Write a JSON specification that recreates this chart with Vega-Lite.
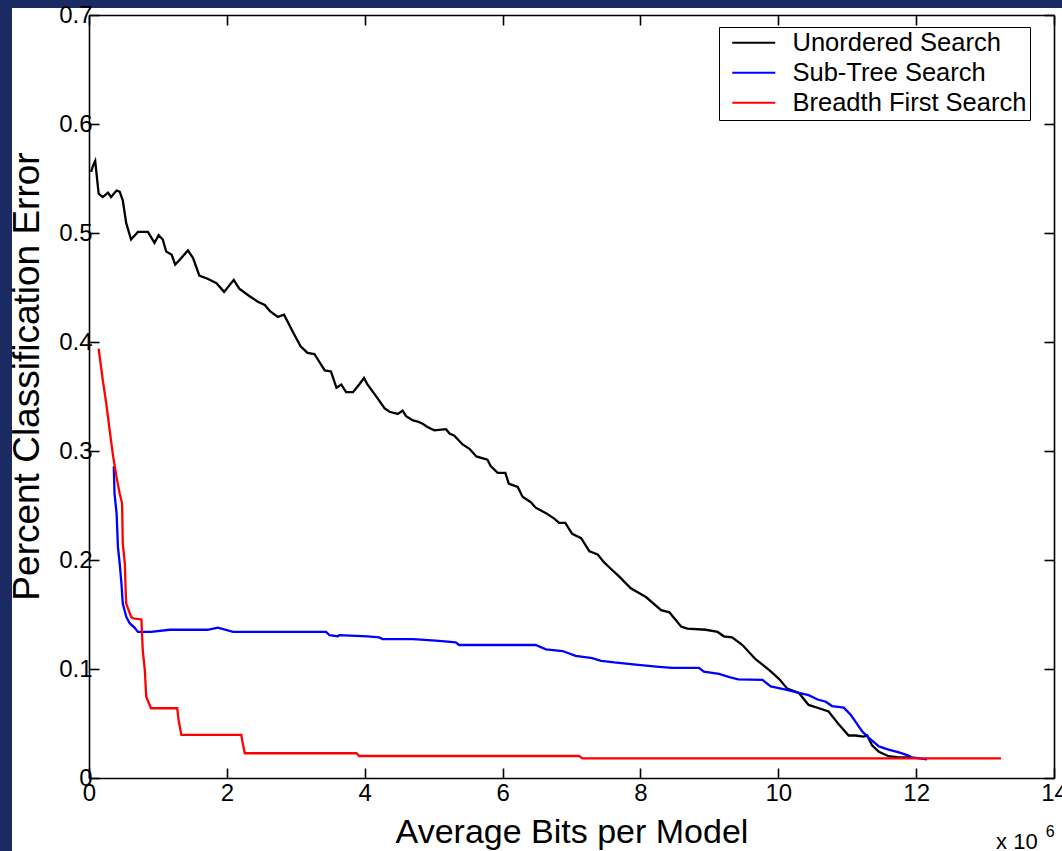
{
  "$schema": "https://vega.github.io/schema/vega-lite/v6.json",
  "width": 965,
  "height": 763,
  "autosize": {"type": "none"},
  "padding": {"left": 89, "top": 15, "right": 8, "bottom": 73},
  "background": "#1a2a62",
  "config": {
    "font": "Liberation Sans",
    "view": {"stroke": null},
    "axis": {
      "domainColor": "black", "domainWidth": 1.6,
      "tickColor": "black", "tickWidth": 1.6, "tickSize": -10,
      "labelColor": "black", "labelFontSize": 24, "labelFont": "Liberation Sans",
      "titleColor": "black", "titleFont": "Liberation Sans", "titleFontWeight": "normal",
      "grid": false, "labelFlush": false, "labelOverlap": false, "zindex": 1
    }
  },
  "datasets": {
    "curves": [
      {"s": "Unordered Search", "x": 0.03, "y": 0.556},
      {"s": "Unordered Search", "x": 0.06, "y": 0.562},
      {"s": "Unordered Search", "x": 0.09, "y": 0.566},
      {"s": "Unordered Search", "x": 0.14, "y": 0.536},
      {"s": "Unordered Search", "x": 0.20, "y": 0.533},
      {"s": "Unordered Search", "x": 0.275, "y": 0.537},
      {"s": "Unordered Search", "x": 0.32, "y": 0.533},
      {"s": "Unordered Search", "x": 0.40, "y": 0.539},
      {"s": "Unordered Search", "x": 0.445, "y": 0.538},
      {"s": "Unordered Search", "x": 0.49, "y": 0.530},
      {"s": "Unordered Search", "x": 0.54, "y": 0.509},
      {"s": "Unordered Search", "x": 0.61, "y": 0.494},
      {"s": "Unordered Search", "x": 0.71, "y": 0.501},
      {"s": "Unordered Search", "x": 0.855, "y": 0.501},
      {"s": "Unordered Search", "x": 0.95, "y": 0.491},
      {"s": "Unordered Search", "x": 1.01, "y": 0.498},
      {"s": "Unordered Search", "x": 1.07, "y": 0.494},
      {"s": "Unordered Search", "x": 1.12, "y": 0.483},
      {"s": "Unordered Search", "x": 1.20, "y": 0.480},
      {"s": "Unordered Search", "x": 1.25, "y": 0.471},
      {"s": "Unordered Search", "x": 1.31, "y": 0.475},
      {"s": "Unordered Search", "x": 1.435, "y": 0.484},
      {"s": "Unordered Search", "x": 1.51, "y": 0.477},
      {"s": "Unordered Search", "x": 1.60, "y": 0.461},
      {"s": "Unordered Search", "x": 1.72, "y": 0.458},
      {"s": "Unordered Search", "x": 1.85, "y": 0.454},
      {"s": "Unordered Search", "x": 1.96, "y": 0.446},
      {"s": "Unordered Search", "x": 2.10, "y": 0.457},
      {"s": "Unordered Search", "x": 2.18, "y": 0.449},
      {"s": "Unordered Search", "x": 2.33, "y": 0.442},
      {"s": "Unordered Search", "x": 2.45, "y": 0.437},
      {"s": "Unordered Search", "x": 2.55, "y": 0.434},
      {"s": "Unordered Search", "x": 2.63, "y": 0.428},
      {"s": "Unordered Search", "x": 2.74, "y": 0.423},
      {"s": "Unordered Search", "x": 2.83, "y": 0.425},
      {"s": "Unordered Search", "x": 2.96, "y": 0.409},
      {"s": "Unordered Search", "x": 3.07, "y": 0.396},
      {"s": "Unordered Search", "x": 3.17, "y": 0.390},
      {"s": "Unordered Search", "x": 3.27, "y": 0.389},
      {"s": "Unordered Search", "x": 3.42, "y": 0.374},
      {"s": "Unordered Search", "x": 3.51, "y": 0.373},
      {"s": "Unordered Search", "x": 3.59, "y": 0.358},
      {"s": "Unordered Search", "x": 3.66, "y": 0.361},
      {"s": "Unordered Search", "x": 3.73, "y": 0.354},
      {"s": "Unordered Search", "x": 3.83, "y": 0.354},
      {"s": "Unordered Search", "x": 3.92, "y": 0.361},
      {"s": "Unordered Search", "x": 3.99, "y": 0.367},
      {"s": "Unordered Search", "x": 4.04, "y": 0.361},
      {"s": "Unordered Search", "x": 4.19, "y": 0.348},
      {"s": "Unordered Search", "x": 4.29, "y": 0.339},
      {"s": "Unordered Search", "x": 4.36, "y": 0.336},
      {"s": "Unordered Search", "x": 4.48, "y": 0.334},
      {"s": "Unordered Search", "x": 4.55, "y": 0.337},
      {"s": "Unordered Search", "x": 4.60, "y": 0.332},
      {"s": "Unordered Search", "x": 4.70, "y": 0.328},
      {"s": "Unordered Search", "x": 4.77, "y": 0.327},
      {"s": "Unordered Search", "x": 4.84, "y": 0.325},
      {"s": "Unordered Search", "x": 4.91, "y": 0.322},
      {"s": "Unordered Search", "x": 5.01, "y": 0.319},
      {"s": "Unordered Search", "x": 5.18, "y": 0.320},
      {"s": "Unordered Search", "x": 5.23, "y": 0.316},
      {"s": "Unordered Search", "x": 5.30, "y": 0.314},
      {"s": "Unordered Search", "x": 5.42, "y": 0.306},
      {"s": "Unordered Search", "x": 5.52, "y": 0.302},
      {"s": "Unordered Search", "x": 5.62, "y": 0.295},
      {"s": "Unordered Search", "x": 5.78, "y": 0.292},
      {"s": "Unordered Search", "x": 5.83, "y": 0.286},
      {"s": "Unordered Search", "x": 5.93, "y": 0.280},
      {"s": "Unordered Search", "x": 6.04, "y": 0.280},
      {"s": "Unordered Search", "x": 6.09, "y": 0.270},
      {"s": "Unordered Search", "x": 6.22, "y": 0.267},
      {"s": "Unordered Search", "x": 6.29, "y": 0.258},
      {"s": "Unordered Search", "x": 6.41, "y": 0.253},
      {"s": "Unordered Search", "x": 6.48, "y": 0.248},
      {"s": "Unordered Search", "x": 6.63, "y": 0.243},
      {"s": "Unordered Search", "x": 6.75, "y": 0.238},
      {"s": "Unordered Search", "x": 6.82, "y": 0.234},
      {"s": "Unordered Search", "x": 6.91, "y": 0.234},
      {"s": "Unordered Search", "x": 7.01, "y": 0.224},
      {"s": "Unordered Search", "x": 7.14, "y": 0.220},
      {"s": "Unordered Search", "x": 7.26, "y": 0.208},
      {"s": "Unordered Search", "x": 7.38, "y": 0.205},
      {"s": "Unordered Search", "x": 7.47, "y": 0.198},
      {"s": "Unordered Search", "x": 7.57, "y": 0.192},
      {"s": "Unordered Search", "x": 7.69, "y": 0.185},
      {"s": "Unordered Search", "x": 7.86, "y": 0.174},
      {"s": "Unordered Search", "x": 8.08, "y": 0.166},
      {"s": "Unordered Search", "x": 8.30, "y": 0.154},
      {"s": "Unordered Search", "x": 8.42, "y": 0.152},
      {"s": "Unordered Search", "x": 8.59, "y": 0.139},
      {"s": "Unordered Search", "x": 8.68, "y": 0.137},
      {"s": "Unordered Search", "x": 8.95, "y": 0.136},
      {"s": "Unordered Search", "x": 9.12, "y": 0.134},
      {"s": "Unordered Search", "x": 9.21, "y": 0.130},
      {"s": "Unordered Search", "x": 9.33, "y": 0.129},
      {"s": "Unordered Search", "x": 9.48, "y": 0.122},
      {"s": "Unordered Search", "x": 9.67, "y": 0.109},
      {"s": "Unordered Search", "x": 9.87, "y": 0.099},
      {"s": "Unordered Search", "x": 10.01, "y": 0.091},
      {"s": "Unordered Search", "x": 10.13, "y": 0.082},
      {"s": "Unordered Search", "x": 10.30, "y": 0.078},
      {"s": "Unordered Search", "x": 10.44, "y": 0.067},
      {"s": "Unordered Search", "x": 10.59, "y": 0.064},
      {"s": "Unordered Search", "x": 10.73, "y": 0.061},
      {"s": "Unordered Search", "x": 10.88, "y": 0.049},
      {"s": "Unordered Search", "x": 11.02, "y": 0.039},
      {"s": "Unordered Search", "x": 11.12, "y": 0.039},
      {"s": "Unordered Search", "x": 11.24, "y": 0.038},
      {"s": "Unordered Search", "x": 11.29, "y": 0.039},
      {"s": "Unordered Search", "x": 11.36, "y": 0.030},
      {"s": "Unordered Search", "x": 11.46, "y": 0.024},
      {"s": "Unordered Search", "x": 11.60, "y": 0.020},
      {"s": "Unordered Search", "x": 11.75, "y": 0.019},
      {"s": "Unordered Search", "x": 11.92, "y": 0.019},
      {"s": "Sub-Tree Search", "x": 0.36, "y": 0.286},
      {"s": "Sub-Tree Search", "x": 0.37, "y": 0.261},
      {"s": "Sub-Tree Search", "x": 0.40, "y": 0.243},
      {"s": "Sub-Tree Search", "x": 0.42, "y": 0.212},
      {"s": "Sub-Tree Search", "x": 0.445, "y": 0.197},
      {"s": "Sub-Tree Search", "x": 0.47, "y": 0.179},
      {"s": "Sub-Tree Search", "x": 0.49, "y": 0.160},
      {"s": "Sub-Tree Search", "x": 0.54, "y": 0.148},
      {"s": "Sub-Tree Search", "x": 0.59, "y": 0.142},
      {"s": "Sub-Tree Search", "x": 0.66, "y": 0.138},
      {"s": "Sub-Tree Search", "x": 0.71, "y": 0.134},
      {"s": "Sub-Tree Search", "x": 0.90, "y": 0.134},
      {"s": "Sub-Tree Search", "x": 1.17, "y": 0.136},
      {"s": "Sub-Tree Search", "x": 1.72, "y": 0.136},
      {"s": "Sub-Tree Search", "x": 1.87, "y": 0.138},
      {"s": "Sub-Tree Search", "x": 2.09, "y": 0.134},
      {"s": "Sub-Tree Search", "x": 2.76, "y": 0.134},
      {"s": "Sub-Tree Search", "x": 3.44, "y": 0.134},
      {"s": "Sub-Tree Search", "x": 3.49, "y": 0.131},
      {"s": "Sub-Tree Search", "x": 3.61, "y": 0.130},
      {"s": "Sub-Tree Search", "x": 3.63, "y": 0.131},
      {"s": "Sub-Tree Search", "x": 4.04, "y": 0.130},
      {"s": "Sub-Tree Search", "x": 4.21, "y": 0.129},
      {"s": "Sub-Tree Search", "x": 4.26, "y": 0.1275},
      {"s": "Sub-Tree Search", "x": 4.70, "y": 0.1275},
      {"s": "Sub-Tree Search", "x": 5.03, "y": 0.126},
      {"s": "Sub-Tree Search", "x": 5.32, "y": 0.1245},
      {"s": "Sub-Tree Search", "x": 5.37, "y": 0.122},
      {"s": "Sub-Tree Search", "x": 6.48, "y": 0.122},
      {"s": "Sub-Tree Search", "x": 6.63, "y": 0.118},
      {"s": "Sub-Tree Search", "x": 6.87, "y": 0.1165},
      {"s": "Sub-Tree Search", "x": 7.06, "y": 0.112},
      {"s": "Sub-Tree Search", "x": 7.30, "y": 0.110},
      {"s": "Sub-Tree Search", "x": 7.43, "y": 0.1075},
      {"s": "Sub-Tree Search", "x": 7.62, "y": 0.106},
      {"s": "Sub-Tree Search", "x": 7.93, "y": 0.104},
      {"s": "Sub-Tree Search", "x": 8.27, "y": 0.102},
      {"s": "Sub-Tree Search", "x": 8.46, "y": 0.101},
      {"s": "Sub-Tree Search", "x": 8.85, "y": 0.101},
      {"s": "Sub-Tree Search", "x": 8.92, "y": 0.0975},
      {"s": "Sub-Tree Search", "x": 9.14, "y": 0.0955},
      {"s": "Sub-Tree Search", "x": 9.29, "y": 0.0925},
      {"s": "Sub-Tree Search", "x": 9.42, "y": 0.0905},
      {"s": "Sub-Tree Search", "x": 9.77, "y": 0.090},
      {"s": "Sub-Tree Search", "x": 9.89, "y": 0.084},
      {"s": "Sub-Tree Search", "x": 10.11, "y": 0.081},
      {"s": "Sub-Tree Search", "x": 10.30, "y": 0.078},
      {"s": "Sub-Tree Search", "x": 10.44, "y": 0.076},
      {"s": "Sub-Tree Search", "x": 10.57, "y": 0.072},
      {"s": "Sub-Tree Search", "x": 10.69, "y": 0.070},
      {"s": "Sub-Tree Search", "x": 10.78, "y": 0.066},
      {"s": "Sub-Tree Search", "x": 10.95, "y": 0.0645},
      {"s": "Sub-Tree Search", "x": 11.05, "y": 0.058},
      {"s": "Sub-Tree Search", "x": 11.15, "y": 0.049},
      {"s": "Sub-Tree Search", "x": 11.22, "y": 0.0425},
      {"s": "Sub-Tree Search", "x": 11.31, "y": 0.037},
      {"s": "Sub-Tree Search", "x": 11.46, "y": 0.029},
      {"s": "Sub-Tree Search", "x": 11.60, "y": 0.026},
      {"s": "Sub-Tree Search", "x": 11.75, "y": 0.0235},
      {"s": "Sub-Tree Search", "x": 11.87, "y": 0.021},
      {"s": "Sub-Tree Search", "x": 11.94, "y": 0.019},
      {"s": "Sub-Tree Search", "x": 12.16, "y": 0.017},
      {"s": "Breadth First Search", "x": 0.14, "y": 0.394},
      {"s": "Breadth First Search", "x": 0.20, "y": 0.365},
      {"s": "Breadth First Search", "x": 0.25, "y": 0.344},
      {"s": "Breadth First Search", "x": 0.30, "y": 0.319},
      {"s": "Breadth First Search", "x": 0.35, "y": 0.295},
      {"s": "Breadth First Search", "x": 0.40, "y": 0.276},
      {"s": "Breadth First Search", "x": 0.445, "y": 0.261},
      {"s": "Breadth First Search", "x": 0.48, "y": 0.252},
      {"s": "Breadth First Search", "x": 0.49, "y": 0.215},
      {"s": "Breadth First Search", "x": 0.52, "y": 0.197},
      {"s": "Breadth First Search", "x": 0.53, "y": 0.1755},
      {"s": "Breadth First Search", "x": 0.54, "y": 0.160},
      {"s": "Breadth First Search", "x": 0.61, "y": 0.148},
      {"s": "Breadth First Search", "x": 0.64, "y": 0.1465},
      {"s": "Breadth First Search", "x": 0.76, "y": 0.1455},
      {"s": "Breadth First Search", "x": 0.78, "y": 0.117},
      {"s": "Breadth First Search", "x": 0.81, "y": 0.099},
      {"s": "Breadth First Search", "x": 0.83, "y": 0.0746},
      {"s": "Breadth First Search", "x": 0.90, "y": 0.064},
      {"s": "Breadth First Search", "x": 1.28, "y": 0.064},
      {"s": "Breadth First Search", "x": 1.30, "y": 0.053},
      {"s": "Breadth First Search", "x": 1.34, "y": 0.0395},
      {"s": "Breadth First Search", "x": 2.21, "y": 0.0395},
      {"s": "Breadth First Search", "x": 2.23, "y": 0.032},
      {"s": "Breadth First Search", "x": 2.26, "y": 0.0227},
      {"s": "Breadth First Search", "x": 3.88, "y": 0.0227},
      {"s": "Breadth First Search", "x": 3.92, "y": 0.0202},
      {"s": "Breadth First Search", "x": 7.11, "y": 0.0202},
      {"s": "Breadth First Search", "x": 7.16, "y": 0.018},
      {"s": "Breadth First Search", "x": 13.23, "y": 0.018}
    ]
  },
  "layer": [
    {
      "data": {"values": [{}]},
      "mark": {"type": "rect", "fill": "white", "clip": false},
      "encoding": {
        "x": {"datum": -1.117, "type": "quantitative", "scale": {"domain": [0, 14], "nice": false, "zero": false}, "axis": null},
        "x2": {"datum": 15},
        "y": {"datum": -0.2, "type": "quantitative", "scale": {"domain": [0, 0.7], "nice": false, "zero": false}, "axis": null},
        "y2": {"datum": 0.7064}
      }
    },
    {
      "data": {"name": "curves"},
      "mark": {"type": "line", "strokeWidth": 2.3, "clip": false},
      "encoding": {
        "x": {"field": "x", "type": "quantitative",
          "axis": {"orient": "bottom", "zindex": 1, "values": [0, 2, 4, 6, 8, 10, 12, 14], "labelPadding": 13, "title": "Average Bits per Model", "titleFontSize": 34, "titleBaseline": "alphabetic", "titleY": 64}},
        "y": {"field": "y", "type": "quantitative",
          "axis": {"orient": "left", "zindex": 1, "values": [0, 0.1, 0.2, 0.3, 0.4, 0.5, 0.6, 0.7], "format": ".1~f", "labelPadding": 7, "title": "Percent Classification Error", "titleFontSize": 37, "titleBaseline": "alphabetic", "titleAngle": 270, "titleX": -51, "titleY": 361, "titleAlign": "center"}},
        "color": {"field": "s", "type": "nominal",
          "scale": {"domain": ["Unordered Search", "Sub-Tree Search", "Breadth First Search"], "range": ["#000000", "#0000ff", "#ff0000"]},
          "legend": {"title": null, "orient": "none", "legendX": 630, "legendY": 12, "strokeColor": "black", "fillColor": "white", "padding": 3, "symbolType": "M-2.15,0H2.15", "symbolSize": 400, "symbolStrokeWidth": 2, "labelFontSize": 25.5, "labelColor": "black", "labelFont": "Liberation Sans", "labelOffset": 26, "rowPadding": 3, "symbolOffset": 19, "labelLimit": 400, "labelExpr": "datum.label + '\u00a0\u00a0\u00a0\u00a0'"}}
      }
    },
    {
      "data": {"name": "curves"},
      "mark": {"type": "point", "opacity": 0},
      "encoding": {
        "x": {"field": "x", "type": "quantitative", "axis": {"orient": "top", "zindex": 1, "values": [0, 2, 4, 6, 8, 10, 12, 14], "labels": false, "title": null}},
        "y": {"field": "y", "type": "quantitative", "axis": {"orient": "right", "zindex": 1, "values": [0, 0.1, 0.2, 0.3, 0.4, 0.5, 0.6, 0.7], "labels": false, "title": null}}
      }
    },
    {
      "data": {"values": [{}]},
      "mark": {"type": "text", "align": "left", "baseline": "alphabetic", "fontSize": 22, "font": "Liberation Sans", "color": "black", "clip": false},
      "encoding": {
        "x": {"datum": 13.16, "type": "quantitative", "axis": null},
        "y": {"datum": -0.065, "type": "quantitative", "axis": null},
        "text": {"value": "x 10"}
      }
    },
    {
      "data": {"values": [{}]},
      "mark": {"type": "text", "align": "left", "baseline": "alphabetic", "fontSize": 16, "font": "Liberation Sans", "color": "black", "clip": false},
      "encoding": {
        "x": {"datum": 13.88, "type": "quantitative", "axis": null},
        "y": {"datum": -0.054, "type": "quantitative", "axis": null},
        "text": {"value": "6"}
      }
    }
  ]
}
